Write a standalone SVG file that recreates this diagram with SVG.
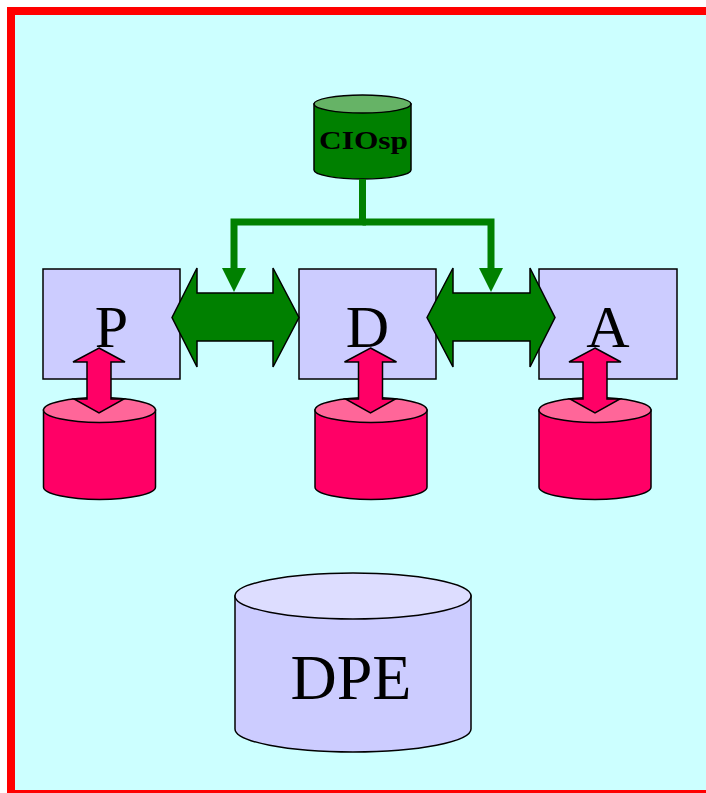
<svg xmlns="http://www.w3.org/2000/svg" width="706" height="793" viewBox="0 0 706 793">
<style>
.ln{stroke:#000;stroke-width:1.5}
.box{fill:#CCCCFF;stroke:#000;stroke-width:1.5}
.lbl{font-family:"Liberation Serif","Times New Roman",serif;fill:#000;text-anchor:middle}
.pink{fill:#FF0066;stroke:#000;stroke-width:1.5}
.pinktop{fill:#FF6699;stroke:#000;stroke-width:1.5}
.garrow{fill:#008000;stroke:#000;stroke-width:1.5}
.gline{fill:none;stroke:#008000;stroke-width:7}
.ghead{fill:#008000}
</style>
<rect x="11" y="11" width="720" height="783" fill="#CCFFFF" stroke="#FF0000" stroke-width="8"/>

<g id="node-CIOsp">
<path d="M314,104 V170 A48.5,9 0 0 0 411,170 V104 Z" fill="#008000" class="ln"/>
<ellipse cx="362.5" cy="104" rx="48.5" ry="9" fill="#66B366" class="ln"/>
<text x="363.5" y="148.5" class="lbl" font-size="25" font-weight="bold" textLength="89" lengthAdjust="spacingAndGlyphs">CIOsp</text>
</g>

<g id="node-P">
<rect x="43" y="269" width="137" height="110" class="box"/>
<text x="111.5" y="347" class="lbl" font-size="60">P</text>
</g>
<g id="node-D">
<rect x="299" y="269" width="137" height="110" class="box"/>
<text x="367.5" y="347" class="lbl" font-size="60">D</text>
</g>
<g id="node-A">
<rect x="539" y="269" width="138" height="110" class="box"/>
<text x="608" y="347" class="lbl" font-size="60">A</text>
</g>

<g id="connectors">
<path class="gline" d="M362.5,179 V222 H234 V268"/>
<path class="gline" d="M362.5,222 H491 V268"/>
<path class="ghead" d="M222,268 L246,268 L234,292 Z"/>
<path class="ghead" d="M479,268 L503,268 L491,292 Z"/>
<path class="garrow" d="M172,317.5 L197,268 L197,293 L273,293 L273,268 L299,317.5 L273,367 L273,341 L197,341 L197,367 Z"/>
<path class="garrow" d="M427,317.5 L453,268 L453,293 L530,293 L530,268 L555,317.5 L530,367 L530,341 L453,341 L453,367 Z"/>
</g>

<g id="node-dbP">
<path class="pink" d="M43.5,410 V487 A56,12.5 0 0 0 155.5,487 V410 Z"/>
<ellipse class="pinktop" cx="99.5" cy="410" rx="56" ry="12.5"/>
<path class="pink" d="M99,348 L125,362 L111,362 L111,399 L124,399 L99,413 L74,399 L87,399 L87,362 L73,362 Z"/>
</g>
<g id="node-dbD">
<path class="pink" d="M315,410 V487 A56,12.5 0 0 0 427,487 V410 Z"/>
<ellipse class="pinktop" cx="371" cy="410" rx="56" ry="12.5"/>
<path class="pink" d="M370.5,348 L396.5,362 L382.5,362 L382.5,399 L395.5,399 L370.5,413 L345.5,399 L358.5,399 L358.5,362 L344.5,362 Z"/>
</g>
<g id="node-dbA">
<path class="pink" d="M539,410 V487 A56,12.5 0 0 0 651,487 V410 Z"/>
<ellipse class="pinktop" cx="595" cy="410" rx="56" ry="12.5"/>
<path class="pink" d="M595,348 L621,362 L607,362 L607,399 L620,399 L595,413 L570,399 L583,399 L583,362 L569,362 Z"/>
</g>

<g id="node-DPE">
<path d="M235,596 V729 A118,23 0 0 0 471,729 V596 Z" fill="#CCCCFF" class="ln"/>
<ellipse cx="353" cy="596" rx="118" ry="23" fill="#DDDDFF" class="ln"/>
<text x="351" y="699" class="lbl" font-size="64">DPE</text>
</g>
</svg>
